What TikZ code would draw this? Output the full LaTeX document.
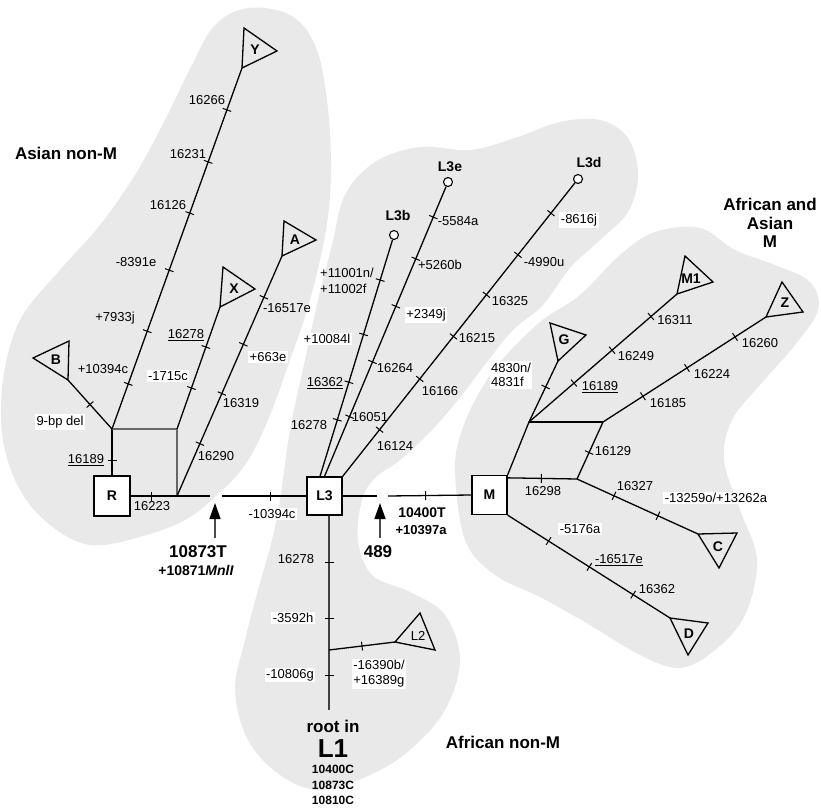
\documentclass[tikz,border=0pt]{standalone}
\usepackage{fontspec}
\setmainfont{Liberation Sans}
\usetikzlibrary{arrows.meta,calc,decorations.markings}
\definecolor{blob}{RGB}{233,233,233}
\begin{document}
\begin{tikzpicture}[x=1pt,y=-1pt,
  br/.style={line width=1.3pt, black},
  lk/.style={line width=1.1pt, black!60},
  tks/.style={postaction={decorate,decoration={markings,
     mark=at position #1 with {\draw[line width=1pt,black] (0,-4.5pt) -- (0,4.5pt);}}}},
  lb/.style={font=\fontsize{13}{14.5}\selectfont, inner sep=1pt},
  wl/.style={lb, fill=white, inner sep=1.5pt},
  bx/.style={draw, line width=1.3pt, fill=white, font=\bfseries\fontsize{14}{16}\selectfont,
     minimum width=35pt, minimum height=39pt, inner sep=0pt},
  tri/.style={line width=1.3pt, line join=miter},
  tl/.style={font=\bfseries\fontsize{14}{16}\selectfont, inner sep=0pt},
  rg/.style={font=\bfseries\fontsize{17}{18.5}\selectfont, align=center, inner sep=0pt},
  bl/.style={font=\bfseries\fontsize{14}{16}\selectfont, align=center, inner sep=0pt},
  circ/.style={circle, draw, line width=1.1pt, fill=white, minimum size=9pt, inner sep=0pt},
  arr/.style={-{Triangle[length=16pt,width=11pt,fill=black,color=black]}, line width=1.6pt, black!70}]
\useasboundingbox (0,0) rectangle (821,810);

% ---------- gray regions ----------
\fill[blob] plot[smooth cycle, tension=0.6] coordinates {(248,8) (290,15) (315,45) (327,100) (331,170) (326,230) (310,300) (290,360) (268,420) (245,465) (215,497) (185,520) (140,537) (90,545) (50,525) (20,490) (3,440) (3,380) (20,320) (60,270) (100,225) (135,175) (165,120) (192,65) (215,25)};
\fill[blob] plot[smooth cycle, tension=0.6] coordinates {(332,245) (345,195) (375,162) (420,147) (470,150) (515,138) (560,122) (600,120) (628,138) (638,175) (628,212) (600,240) (570,268) (543,305) (513,330) (487,362) (462,395) (432,430) (400,460) (375,478) (362,500) (358,540) (372,575) (410,592) (445,615) (460,660) (445,710) (410,750) (370,775) (320,790) (280,775) (248,740) (235,690) (245,640) (258,590) (272,540) (280,500) (290,430) (305,360) (318,300)};
\fill[blob] plot[smooth cycle, tension=0.6] coordinates {(455,470) (462,430) (478,395) (500,362) (540,322) (580,295) (620,255) (655,232) (700,228) (735,250) (775,265) (810,282) (818,310) (795,345) (760,385) (732,420) (724,460) (740,510) (757,560) (745,615) (715,650) (680,668) (640,655) (590,625) (540,597) (495,575) (465,540)};

% ---------- boxes ----------
\node[bx, minimum width=36pt, minimum height=40pt] (R) at (112,496) {R};
\node[bx, minimum height=38pt] (L3) at (324.5,496) {L3};
\node[bx] (M) at (489.5,495) {M};

% ---------- coordinates ----------
\coordinate (J1) at (112,429);
\coordinate (J2) at (177,429);
\coordinate (J3) at (177,496);
\coordinate (gL) at (210,496);
\coordinate (gR) at (222,496);
\coordinate (hL) at (377,496);
\coordinate (hR) at (388,496);
\coordinate (J4) at (529,422);
\coordinate (J5) at (603,422);
\coordinate (J6) at (577,479);
\coordinate (J7) at (329,650);
\coordinate (Lend) at (329,710);

% triangle tips
\coordinate (Yt) at (242,68);
\coordinate (Bt) at (68,380);
\coordinate (Xt) at (220,307);
\coordinate (At) at (282,256);
\coordinate (Gt) at (558,361);
\coordinate (M1t) at (677,294);
\coordinate (Zt) at (766,317);
\coordinate (Ct) at (698,534);
\coordinate (Dt) at (670,618);
\coordinate (L2t) at (395,642);

% ---------- triangles ----------
\draw[tri] (Yt) -- (244,28) -- (277,51) -- cycle;
\node[tl] (Y) at (255,50) {Y};
\draw[tri] (Bt) -- (33,358) -- (69,341) -- cycle;
\node[tl] (B) at (56,360) {B};
\draw[tri] (Xt) -- (223,267) -- (255,289) -- cycle;
\node[tl] (X) at (234,289) {X};
\draw[tri] (At) -- (284,221) -- (316,240) -- cycle;
\node[tl] (A) at (295,240) {A};
\draw[tri] (Gt) -- (550,323) -- (586,335) -- cycle;
\node[tl] (G) at (564,340) {G};
\draw[tri] (M1t) -- (685,256) -- (713,282) -- cycle;
\node[tl] (M1) at (691,279) {M1};
\draw[tri] (Zt) -- (782,282) -- (803,312) -- cycle;
\node[tl] (Z) at (785,303) {Z};
\draw[tri] (Ct) -- (737,533) -- (719,568) -- cycle;
\node[tl] (C) at (718,547) {C};
\draw[tri] (Dt) -- (708,623) -- (688,655) -- cycle;
\node[tl] (D) at (689,634) {D};
\draw[tri] (L2t) -- (420,613) -- (435,650) -- cycle;
\node[tl, font=\fontsize{13}{15}\selectfont] (L2) at (418,636) {L2};

% ---------- circles ----------
\node[circ] (L3bc) at (394,235) {};
\node[circ] (L3ec) at (448,182) {};
\node[circ] (L3dc) at (578,179) {};
\node[bl] (L3bl) at (398,216) {L3b};
\node[bl] (L3el) at (450,167) {L3e};
\node[bl] (L3dl) at (589,163) {L3d};

% ---------- connectors (Asian non-M) ----------
\draw[br, tks=0.33] (R.north) -- (J1);
\draw[lk] (J1) -- (J2);
\draw[lk] (J2) -- (J3);
\draw[br, tks=0.44] (R.east) -- (J3);
\draw[br] (J3) -- (gL);
\draw[br, tks=0.125, tks=0.271, tks=0.440, tks=0.598, tks=0.740, tks=0.884] (J1) -- (Yt);
\draw[br, tks=0.5] (J1) -- (Bt);
\draw[br, tks=0.336, tks=0.672] (J2) -- (Xt);
\draw[br, tks=0.218, tks=0.427, tks=0.632, tks=0.828] (J3) -- (At);
\draw[br, tks=0.576] (gR) -- (L3.west);

% ---------- connectors (L3) ----------
\draw[br, tks=0.239, tks=0.398, tks=0.600, tks=0.830] ([xshift=-4.5pt]L3.north) -- (L3bc);
\draw[br, tks=0.206, tks=0.395, tks=0.587, tks=0.751, tks=0.895] (L3.north) -- (L3ec);
\draw[br, tks=0.159, tks=0.332, tks=0.477, tks=0.619, tks=0.755, tks=0.897] (L3.north east) -- (L3dc);
\draw[br] (L3.east) -- (hL);
\draw[br, tks=0.452] (hR) -- (M.west);
\draw[line width=1.6pt, black!75, tks=0.241, tks=0.528, tks=0.821] ([xshift=4.5pt]L3.south) -- (Lend);
\draw[br, tks=0.5] (J7) -- (L2t);

% ---------- connectors (M) ----------
\draw[br] (M.north east) -- (J4);
\draw[br] (J4) -- (J5);
\draw[br, tks=0.486] ([yshift=-3pt]M.north east) -- (J6);
\draw[br, tks=0.464] (J6) -- (J5);
\draw[br, tks=0.306, tks=0.669] (J6) -- (Ct);
\draw[br, tks=0.252, tks=0.503, tks=0.773] (M.south east) -- (Dt);
\draw[br, tks=0.574] (J4) -- (Gt);
\draw[br, tks=0.304, tks=0.561, tks=0.824] (J4) -- (M1t);
\draw[br, tks=0.245, tks=0.515, tks=0.810] (J5) -- (Zt);

% ---------- arrows ----------
\coordinate (a1b) at (215,538);
\coordinate (a1t) at (215,503);
\coordinate (a2b) at (380,538);
\coordinate (a2t) at (380,503);
\draw[arr] (a1b) -- (a1t);
\draw[arr] (a2b) -- (a2t);

% ---------- labels: Asian non-M ----------
\node[lb] (t16266) at (207,100) {16266};
\node[lb] (t16231) at (188,154) {16231};
\node[lb] (t16126) at (168,205) {16126};
\node[lb] (t8391) at (136,262) {-8391e};
\node[lb] (t7933) at (115,318) {+7933j};
\node[lb] (t10394) at (103,369) {+10394c};
\node[wl] (t9bp) at (60,422) {9-bp del};
\node[lb] (t16189a) at (86,460) {\underline{16189}};
\node[lb] (t16278a) at (186,335) {\underline{16278}};
\node[wl] (t1715) at (168,376) {-1715c};
\node[lb] (t16517a) at (287,308) {-16517e};
\node[wl] (t663) at (268,357) {+663e};
\node[lb] (t16319) at (241,403) {16319};
\node[lb] (t16290) at (216,456) {16290};
\node[lb] (t16223) at (152,506) {16223};
\node[wl] (t10394b) at (272,514) {-10394c};
\node[rg] (t10873) at (198,552) {10873T};
\node[bl] (t10871) at (196,570) {+10871\textit{MnlI}};
\node[rg] (t489) at (378,552) {489};
\node[bl] (t10400) at (422,513) {10400T};
\node[bl, font=\bfseries\fontsize{13}{15}\selectfont] (t10397) at (421,530) {+10397a};

% ---------- labels: L3 ----------
\node[lb, anchor=west, align=left, font=\fontsize{13}{16}\selectfont] (t11001) at (319,281) {+11001n/\\+11002f};
\node[wl] (t10084) at (327,339) {+10084l};
\node[lb] (t16362a) at (325,383) {\underline{16362}};
\node[lb] (t16278b) at (309,425) {16278};
\node[lb] (t5584) at (458,221) {-5584a};
\node[lb] (t5260) at (440,265) {+5260b};
\node[wl] (t2349) at (426,315) {+2349j};
\node[lb] (t16264) at (395,368) {16264};
\node[lb] (t16051) at (370,417) {16051};
\node[wl] (t8616) at (579,220) {-8616j};
\node[lb] (t4990) at (544,262) {-4990u};
\node[lb] (t16325) at (510,301) {16325};
\node[lb] (t16215) at (477,338) {16215};
\node[lb] (t16166) at (440,391) {16166};
\node[lb] (t16124) at (395,446) {16124};

% ---------- labels: M ----------
\node[wl, align=left, font=\fontsize{13}{14.5}\selectfont] (t4830) at (511,375) {4830n/\\4831f};
\node[lb] (t16189b) at (600,387) {\underline{16189}};
\node[lb] (t16249) at (636,356) {16249};
\node[lb] (t16311) at (675,320) {16311};
\node[lb] (t16185) at (668,403) {16185};
\node[lb] (t16224) at (712,374) {16224};
\node[lb] (t16260) at (760,343) {16260};
\node[lb] (t16298) at (543,491) {16298};
\node[lb] (t16129) at (613,451) {16129};
\node[lb] (t16327) at (635,486) {16327};
\node[wl] (t13259) at (716,498) {-13259o/+13262a};
\node[wl] (t5176) at (580,529) {-5176a};
\node[lb] (t16517b) at (619,560) {\underline{-16517e}};
\node[lb] (t16362b) at (657,589) {16362};

% ---------- labels: bottom ----------
\node[lb] (t16278c) at (296,559) {16278};
\node[wl] (t3592) at (293,618) {-3592h};
\node[wl] (t10806) at (290,675) {-10806g};
\node[wl, align=left, font=\fontsize{13}{15}\selectfont] (t16390) at (379,674) {-16390b/\\+16389g};
\node[rg] (troot) at (333,726) {root in};
\node[font=\bfseries\fontsize{26}{28}\selectfont, inner sep=0pt] (tL1) at (333,749) {L1};
\node[bl, font=\bfseries\fontsize{12}{15.5}\selectfont] (tcodes) at (333,785) {10400C\\10873C\\10810C};

% ---------- region labels ----------
\node[rg] (rAsian) at (66,153) {Asian non-M};
\node[rg] (rAfrAs) at (770,223) {African and\\Asian\\M};
\node[rg] (rAfr) at (503,742) {African non-M};
\end{tikzpicture}
\end{document}
